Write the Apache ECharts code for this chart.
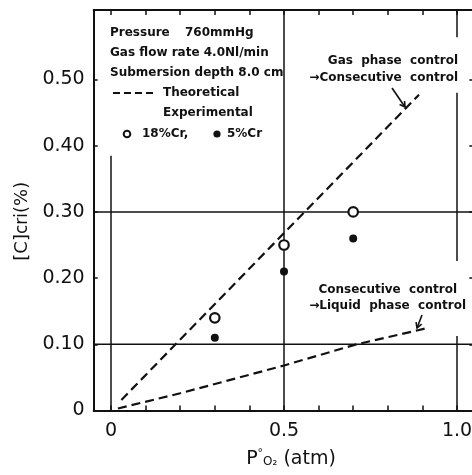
<!DOCTYPE html>
<html>
<head>
<meta charset="utf-8">
<script src="https://cdn.jsdelivr.net/npm/echarts@6/dist/echarts.min.js"></script>
<style>
  html, body { margin: 0; padding: 0; background: #fff; }
  #chart { width: 472px; height: 475px; }
</style>
</head>
<body>
<div id="chart"></div>
<script>
// Axis ticks and labels
const xTickValues = [0, 0.1, 0.2, 0.3, 0.4, 0.5, 0.6, 0.7, 0.8, 0.9, 1.0];
const xLabelValues = [0, 0.5, 1.0];
const xTickLabels = ['0', '0.5', '1.0'];
const yTickValues = [0, 0.1, 0.2, 0.3, 0.4, 0.5];
const yTickLabels = ['0', '0.10', '0.20', '0.30', '0.40', '0.50'];

// Experimental critical carbon content vs oxygen partial pressure
const pO2 = [0.3, 0.5, 0.7];
const cCri18Cr = [0.14, 0.25, 0.30];
const cCri5Cr = [0.11, 0.21, 0.26];

// Theoretical boundaries
const gasCtrlX = [0.03, 0.89];
const gasCtrlY = [0.016, 0.477];
const liqCtrlX = [0.02, 0.2, 0.5, 0.71, 0.91];
const liqCtrlY = [0.003, 0.026, 0.068, 0.10, 0.124];

// Reference lines: [x, yFrom, yTo] and horizontal y values
const vGridSegments = [[0, 0, 0.385], [0.5, 0, 0.605], [1.0, 0, 0.1125], [1.0, 0.226, 0.48], [1.0, 0.564, 0.605]];
const hGridValues = [0.1, 0.3];

const X_MIN = -0.05, X_MAX = 1.05, Y_MIN = 0, Y_MAX = 0.605;
const FONT = 'DejaVu Sans';
const INK = '#111';

const pairs = (xs, ys) => xs.map((x, i) => [x, ys[i]]);

const gridSeries = [];
vGridSegments.forEach(([x, y0, y1]) => {
  gridSeries.push({ type: 'line', data: [[x, y0], [x, y1]], symbol: 'none', silent: true, z: 1,
    lineStyle: { color: INK, width: 1.5 } });
});
hGridValues.forEach(y => {
  gridSeries.push({ type: 'line', data: [[X_MIN, y], [X_MAX, y]], symbol: 'none', silent: true, z: 1,
    lineStyle: { color: INK, width: 1.5 } });
});

const chart = echarts.init(document.getElementById('chart'), null, { renderer: 'canvas' });

const axisCommon = {
  type: 'value',
  axisLine: { show: true, onZero: false, lineStyle: { color: INK, width: 2 } },
  splitLine: { show: false },
};

// Arrow helper: shaft plus two wings at the tip
function arrow(tail, tip, len) {
  const dx = tip[0] - tail[0], dy = tip[1] - tail[1];
  const d = Math.hypot(dx, dy);
  const bx = -dx / d, by = -dy / d;
  const rot = a => [bx * Math.cos(a) - by * Math.sin(a), bx * Math.sin(a) + by * Math.cos(a)];
  const w1 = rot(Math.PI / 6), w2 = rot(-Math.PI / 6);
  const st = { stroke: INK, lineWidth: 1.6, fill: null };
  return [
    { type: 'polyline', shape: { points: [tail, tip] }, style: st, z: 20 },
    { type: 'polyline', shape: { points: [[tip[0] + w1[0] * len, tip[1] + w1[1] * len], tip, [tip[0] + w2[0] * len, tip[1] + w2[1] * len]] }, style: st, z: 20 },
  ];
}

function txt(x, y, s, size, align) {
  return { type: 'text', x: x, y: y, z: 20,
    style: { text: s, font: 'bold ' + size + 'px "' + FONT + '"', fill: INK, verticalAlign: 'middle', align: align || 'left' } };
}

const LEG = 12;
const ANN = 12;

chart.setOption({
  animation: false,
  backgroundColor: '#fff',
  grid: { left: 93.7, top: 10, width: 380.6, height: 400.5, containLabel: false, outerBoundsMode: 'none' },
  xAxis: [
    Object.assign({}, axisCommon, {
      position: 'bottom', min: X_MIN, max: X_MAX,
      axisTick: { show: true, inside: true, length: 5, customValues: xTickValues, lineStyle: { color: INK, width: 1.5 } },
      axisLabel: { show: true, customValues: xLabelValues, margin: 11, color: INK,
        fontFamily: FONT, fontSize: 19,
        formatter: v => xTickLabels[xLabelValues.indexOf(v)] },
      name: '{n|P}{sup|°}{sub|O₂}{n| (atm)}',
      nameLocation: 'middle', nameGap: 37,
      nameTextStyle: {
        padding: [0, 0, 0, 14],
        rich: {
          n: { fontFamily: FONT, fontSize: 19, color: INK },
          sup: { fontFamily: FONT, fontSize: 11, color: INK, padding: [0, 0, 12, 0] },
          sub: { fontFamily: FONT, fontSize: 12, color: INK, padding: [6, 0, 0, 0] },
        }
      }
    }),
    Object.assign({}, axisCommon, {
      position: 'top', min: X_MIN, max: X_MAX,
      axisTick: { show: true, inside: true, length: 5, customValues: xTickValues, lineStyle: { color: INK, width: 1.5 } },
      axisLabel: { show: false }
    })
  ],
  yAxis: [
    Object.assign({}, axisCommon, {
      position: 'left', min: Y_MIN, max: Y_MAX,
      axisTick: { show: true, inside: true, length: 4, customValues: yTickValues, lineStyle: { color: INK, width: 1.5 } },
      axisLabel: { show: true, customValues: yTickValues, margin: 9, color: INK,
        fontFamily: FONT, fontSize: 19,
        formatter: v => yTickLabels[yTickValues.indexOf(v)] },
      name: '{n|[C]}{s|cri}{n|(%)}',
      nameLocation: 'middle', nameGap: 62, nameRotate: 90,
      nameTextStyle: {
        padding: [0, 22, 0, 0],
        rich: {
          n: { fontFamily: FONT, fontSize: 18, color: INK },
          s: { fontFamily: FONT, fontSize: 17, color: INK },
        }
      }
    }),
    Object.assign({}, axisCommon, {
      position: 'right', min: Y_MIN, max: Y_MAX,
      axisTick: { show: true, inside: true, length: 5, customValues: yTickValues, lineStyle: { color: INK, width: 1.5 } },
      axisLabel: { show: false }
    })
  ],
  series: gridSeries.concat([
    { name: 'Gas phase control boundary', type: 'line', data: pairs(gasCtrlX, gasCtrlY), symbol: 'none', z: 3,
      lineStyle: { color: INK, width: 2.2, type: [9, 5] } },
    { name: 'Liquid phase control boundary', type: 'line', data: pairs(liqCtrlX, liqCtrlY), symbol: 'none', z: 3,
      lineStyle: { color: INK, width: 2.2, type: [9, 5] } },
    { name: '18%Cr', type: 'scatter', data: pairs(pO2, cCri18Cr), symbol: 'circle', symbolSize: 9.5, z: 6,
      itemStyle: { color: '#fff', borderColor: INK, borderWidth: 2.2, opacity: 1 } },
    { name: '5%Cr', type: 'scatter', data: pairs(pO2, cCri5Cr), symbol: 'circle', symbolSize: 8, z: 6,
      itemStyle: { color: INK, opacity: 1 } },
  ]),
  graphic: [
    // Experimental conditions and key
    txt(110, 33, 'Pressure', LEG),
    txt(185, 33, '760mmHg', LEG),
    txt(110, 53, 'Gas flow rate 4.0Nl/min', LEG),
    txt(110, 73, 'Submersion depth 8.0 cm', LEG),
    { type: 'line', shape: { x1: 113, y1: 93, x2: 155, y2: 93 }, z: 20,
      style: { stroke: INK, lineWidth: 2, lineDash: [7, 4] } },
    txt(163, 93, 'Theoretical', LEG),
    txt(163, 113, 'Experimental', LEG),
    { type: 'circle', shape: { cx: 127, cy: 134, r: 3.3 }, z: 20, style: { fill: '#fff', stroke: INK, lineWidth: 2 } },
    txt(142, 134, '18%Cr,', LEG),
    { type: 'circle', shape: { cx: 217, cy: 134, r: 3.6 }, z: 20, style: { fill: INK } },
    txt(227, 134, '5%Cr', LEG),
    // Boundary annotations
    txt(458, 61, 'Gas  phase  control', ANN, 'right'),
    txt(458, 78, '→Consecutive  control', ANN, 'right'),
    ...arrow([392, 88], [405, 107], 6),
    txt(457, 290, 'Consecutive  control', ANN, 'right'),
    txt(466, 306, '→Liquid  phase  control', ANN, 'right'),
    ...arrow([422, 315], [417, 328], 6),
  ]
});
</script>
</body>
</html>
